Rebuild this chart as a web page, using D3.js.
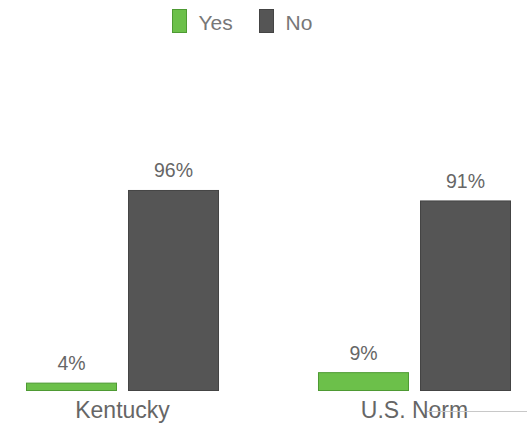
<!DOCTYPE html>
<html>
<head>
<meta charset="utf-8">
<script src="https://cdn.jsdelivr.net/npm/d3@7"></script>
<style>
  html, body { margin: 0; padding: 0; background: #fff; }
  svg { display: block; font-family: "Liberation Sans", Arial, sans-serif; }
</style>
</head>
<body>
<svg id="chart" width="527" height="425"></svg>
<script>
// Survey answers per group, in percent
const categories = ["Kentucky", "U.S. Norm"];
const seriesNames = ["Yes", "No"];
const yesValues = [4, 9];
const noValues = [96, 91];
const seriesColors = ["#6cc04a", "#555555"];
const seriesStroke = ["#4e9a33", "#444444"];

const rows = categories.map((c, i) => ({ category: c, values: [yesValues[i], noValues[i]] }));

const svg = d3.select("#chart");
const baseline = 391;

const x0 = d3.scaleBand().domain(categories).range([26, 511]).paddingInner(0.339).paddingOuter(0);
const x1 = d3.scaleBand().domain(seriesNames).range([0, x0.bandwidth()]).paddingInner(0.108).paddingOuter(0);
const y = d3.scaleLinear().domain([0, 100]).range([baseline, 181.6]);

// Bars
const groups = svg.append("g").selectAll("g")
  .data(rows).join("g")
  .attr("transform", d => `translate(${x0(d.category)},0)`);

groups.selectAll("rect")
  .data(d => d.values.map((v, j) => ({ name: seriesNames[j], value: v, j })))
  .join("rect")
  .attr("x", d => x1(d.name) + 0.5)
  .attr("y", d => y(d.value) + 0.5)
  .attr("width", x1.bandwidth() - 1)
  .attr("height", d => baseline - y(d.value) - 1)
  .attr("fill", d => seriesColors[d.j])
  .attr("stroke", d => seriesStroke[d.j])
  .attr("stroke-width", 1);

// Value labels above each bar
groups.selectAll("text")
  .data(d => d.values.map((v, j) => ({ name: seriesNames[j], value: v })))
  .join("text")
  .attr("x", d => x1(d.name) + x1.bandwidth() / 2)
  .attr("y", d => y(d.value) - 12.5)
  .attr("text-anchor", "middle")
  .attr("font-size", 19.5)
  .attr("fill", "#666")
  .text(d => d.value + "%");

// Category axis labels
const xAxis = d3.axisBottom(x0).tickSize(0).tickPadding(0);
const axisG = svg.append("g").attr("transform", `translate(0,${baseline})`).call(xAxis);
axisG.select(".domain").remove();
axisG.selectAll("text")
  .attr("font-size", 23)
  .attr("fill", "#666")
  .attr("dy", null)
  .attr("y", 27)
  .style("font-family", "'Liberation Sans', Arial, sans-serif");

// Thin rule at lower right
svg.append("line")
  .attr("x1", 427).attr("x2", 527)
  .attr("y1", 411.5).attr("y2", 411.5)
  .attr("stroke", "#c8c8c8").attr("stroke-width", 1);

// Legend
const legend = svg.append("g");
const legendX = [172.5, 259.5];
seriesNames.forEach((name, j) => {
  legend.append("rect")
    .attr("x", legendX[j]).attr("y", 9.5)
    .attr("width", 14).attr("height", 23)
    .attr("fill", seriesColors[j])
    .attr("stroke", seriesStroke[j]);
  legend.append("text")
    .attr("x", legendX[j] + 26).attr("y", 30)
    .attr("font-size", 21)
    .attr("fill", "#777")
    .text(name);
});
</script>
</body>
</html>
